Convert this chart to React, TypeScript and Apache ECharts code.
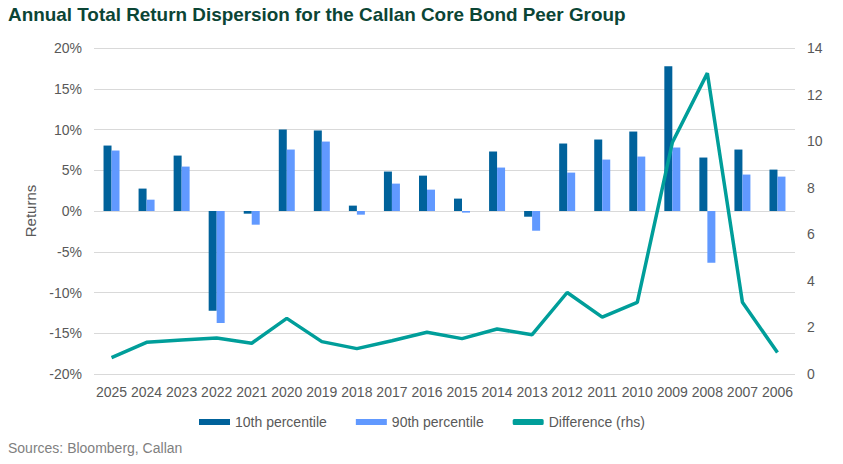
import React, { useEffect, useRef } from "react";
import * as echarts from "echarts";

const categories = ["2025","2024","2023","2022","2021","2020","2019","2018","2017","2016","2015","2014","2013","2012","2011","2010","2009","2008","2007","2006"];
const p10 = [8.03, 2.75, 6.8, -12.25, -0.33, 10.0, 9.88, 0.66, 4.84, 4.34, 1.52, 7.3, -0.7, 8.28, 8.77, 9.75, 17.75, 6.56, 7.54, 5.08];
const p90 = [7.42, 1.39, 5.45, -13.73, -1.68, 7.54, 8.52, -0.45, 3.36, 2.62, -0.2, 5.33, -2.42, 4.71, 6.31, 6.68, 7.79, -6.35, 4.47, 4.22];
const diff = [0.7, 1.36, 1.46, 1.55, 1.32, 2.39, 1.39, 1.09, 1.43, 1.79, 1.52, 1.93, 1.69, 3.5, 2.44, 3.08, 9.94, 12.92, 3.08, 0.92];

const FONT = "Liberation Sans, Arial, sans-serif";

export default function App() {
  const ref = useRef<HTMLDivElement>(null);
  useEffect(() => {
    if (!ref.current) return;
    const chart = echarts.init(ref.current, null, { renderer: "svg" });
    chart.setOption({
      animation: false,
      textStyle: { fontFamily: FONT },
      graphic: [
        {
          type: "text",
          left: 8,
          top: 6,
          scaleX: 1.05,
          style: {
            text: "Annual Total Return Dispersion for the Callan Core Bond Peer Group",
            font: "bold 18px Liberation Sans, Arial, sans-serif",
            fill: "#0b4535",
          },
        },
        {
          type: "text",
          left: 8,
          top: 441,
          style: {
            text: "Sources: Bloomberg, Callan",
            font: "14px Liberation Sans, Arial, sans-serif",
            fill: "#7f7f7f",
          },
        },
      ],
      legend: {
        left: 199,
        top: 415,
        padding: 0,
        itemGap: 29,
        itemWidth: 31,
        itemHeight: 6,
        textStyle: { fontFamily: FONT, fontSize: 14, color: "#595959" },
        data: [
          { name: "10th percentile", icon: "rect" },
          { name: "90th percentile", icon: "rect" },
          { name: "Difference (rhs)", icon: "roundRect" },
        ],
      },
      grid: { left: 94, right: 48, top: 48, bottom: 90 },
      xAxis: {
        type: "category",
        data: categories,
        axisTick: { show: false },
        axisLine: { show: false },
        axisLabel: { color: "#595959", fontSize: 14, margin: 11, interval: 0 },
      },
      yAxis: [
        {
          type: "value",
          min: -20,
          max: 20,
          interval: 5,
          name: "Returns",
          nameLocation: "middle",
          nameGap: 49,
          nameTextStyle: { color: "#595959", fontSize: 15 },
          axisLabel: { formatter: "{value}%", color: "#595959", fontSize: 14, margin: 12 },
          splitLine: { lineStyle: { color: "#d9d9d9", width: 1 } },
          axisLine: { show: false },
          axisTick: { show: false },
        },
        {
          type: "value",
          min: 0,
          max: 14,
          interval: 2,
          position: "right",
          axisLabel: { color: "#595959", fontSize: 14, margin: 12 },
          splitLine: { show: false },
          axisLine: { show: false },
          axisTick: { show: false },
        },
      ],
      series: [
        {
          name: "10th percentile",
          type: "bar",
          data: p10,
          barWidth: 8,
          barGap: "0%",
          itemStyle: { color: "#00629b" },
        },
        {
          name: "90th percentile",
          type: "bar",
          data: p90,
          barWidth: 8,
          barGap: "0%",
          itemStyle: { color: "#6199ff" },
        },
        {
          name: "Difference (rhs)",
          type: "line",
          yAxisIndex: 1,
          data: diff,
          symbol: "none",
          lineStyle: { color: "#009e9a", width: 3.5 },
          itemStyle: { color: "#009e9a" },
          z: 5,
        },
      ],
    });
    return () => chart.dispose();
  }, []);
  return (
    <div
      ref={ref}
      style={{ position: "absolute", left: 0, top: 0, width: 843, height: 464 }}
    />
  );
}
